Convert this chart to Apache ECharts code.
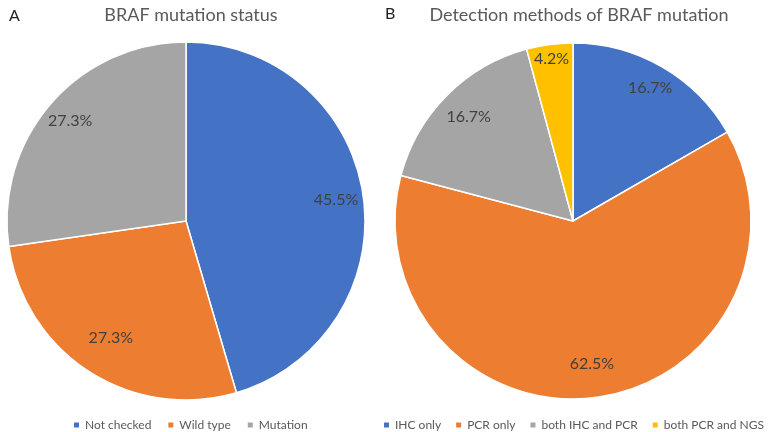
<!DOCTYPE html>
<html>
<head>
<meta charset="utf-8">
<script src="https://cdn.jsdelivr.net/npm/echarts@6/dist/echarts.min.js"></script>
<style>html,body{margin:0;padding:0;background:#fff}#c{width:772px;height:432px}</style>
</head>
<body>
<div id="c"></div>
<script>
// Panel A
var titleA = 'BRAF mutation status';
var categoriesA = ['Not checked', 'Wild type', 'Mutation'];
var valuesA = [45.5, 27.3, 27.3];
// Panel B
var titleB = 'Detection methods of BRAF mutation';
var categoriesB = ['IHC only', 'PCR only', 'both IHC and PCR', 'both PCR and NGS'];
var valuesB = [16.7, 62.5, 16.7, 4.2];

var colors = ['#4472C4', '#ED7D31', '#A5A5A5', '#FFC000'];
var labelFracA = [0.83, 0.76, 0.84];
var labelFracB = [0.85, 0.79, 0.81, 0.9];
var FONT = 'Lato';

function mkData(cats, vals) {
  return cats.map(function (c, i) { return { name: c, value: vals[i], itemStyle: { color: colors[i] } }; });
}

function mainPie(cats, vals, center, r) {
  return {
    type: 'pie', center: center, radius: [0, r], startAngle: 90, clockwise: true,
    data: mkData(cats, vals),
    itemStyle: { borderColor: '#fff', borderWidth: 1.5 },
    label: { show: false }, labelLine: { show: false },
    emphasis: { disabled: true }, animation: false
  };
}

function labelPies(cats, vals, center, r, fracs) {
  return cats.map(function (c, k) {
    var f = fracs[k];
    return {
      type: 'pie', center: center, radius: [r * (2 * f - 1), r], startAngle: 90, clockwise: true,
      silent: true, animation: false, emphasis: { disabled: true },
      legendHoverLink: false,
      itemStyle: { color: 'rgba(0,0,0,0)', borderWidth: 0 },
      data: cats.map(function (n, i) {
        return { name: n, value: vals[i], label: { show: i === k } };
      }),
      label: {
        show: true, position: 'inside', formatter: function (p) { return p.value.toFixed(1) + '%'; },
        color: '#404040', fontSize: 16, fontFamily: FONT
      },
      labelLine: { show: false }
    };
  });
}

var cA = [186, 221], rA = 179;
var cB = [573, 221], rB = 178;

var series = [mainPie(categoriesA, valuesA, cA, rA), mainPie(categoriesB, valuesB, cB, rB)]
  .concat(labelPies(categoriesA, valuesA, cA, rA, labelFracA))
  .concat(labelPies(categoriesB, valuesB, cB, rB, labelFracB));

var legendCommon = {
  icon: 'rect', itemWidth: 7, itemHeight: 7, itemGap: 13, orient: 'horizontal', padding: 0,
  width: 420,
  textStyle: { color: '#595959', fontSize: 12, fontFamily: FONT }, selectedMode: false
};

var chart = echarts.init(document.getElementById('c'));
chart.setOption({
  backgroundColor: '#fff',
  animation: false,
  title: [
    { text: titleA, left: 186, top: 1, textAlign: 'center', textStyle: { color: '#595959', fontSize: 18, fontWeight: 'normal', fontFamily: FONT } },
    { text: titleB, left: 574, top: 1, textAlign: 'center', textStyle: { color: '#595959', fontSize: 18, fontWeight: 'normal', fontFamily: FONT } },
    { text: 'A', left: 4, top: 3, textStyle: { color: '#222', fontSize: 16, fontWeight: 'normal', fontFamily: FONT } },
    { text: 'B', left: 380, top: 1, textStyle: { color: '#222', fontSize: 16, fontWeight: 'normal', fontFamily: FONT } }
  ],
  legend: [
    Object.assign({ data: categoriesA, left: 72, top: 419, itemGap: 15 }, legendCommon, { itemGap: 15 }),
    Object.assign({ data: categoriesB, left: 382, top: 419 }, legendCommon)
  ],
  series: series
});
</script>
</body>
</html>
